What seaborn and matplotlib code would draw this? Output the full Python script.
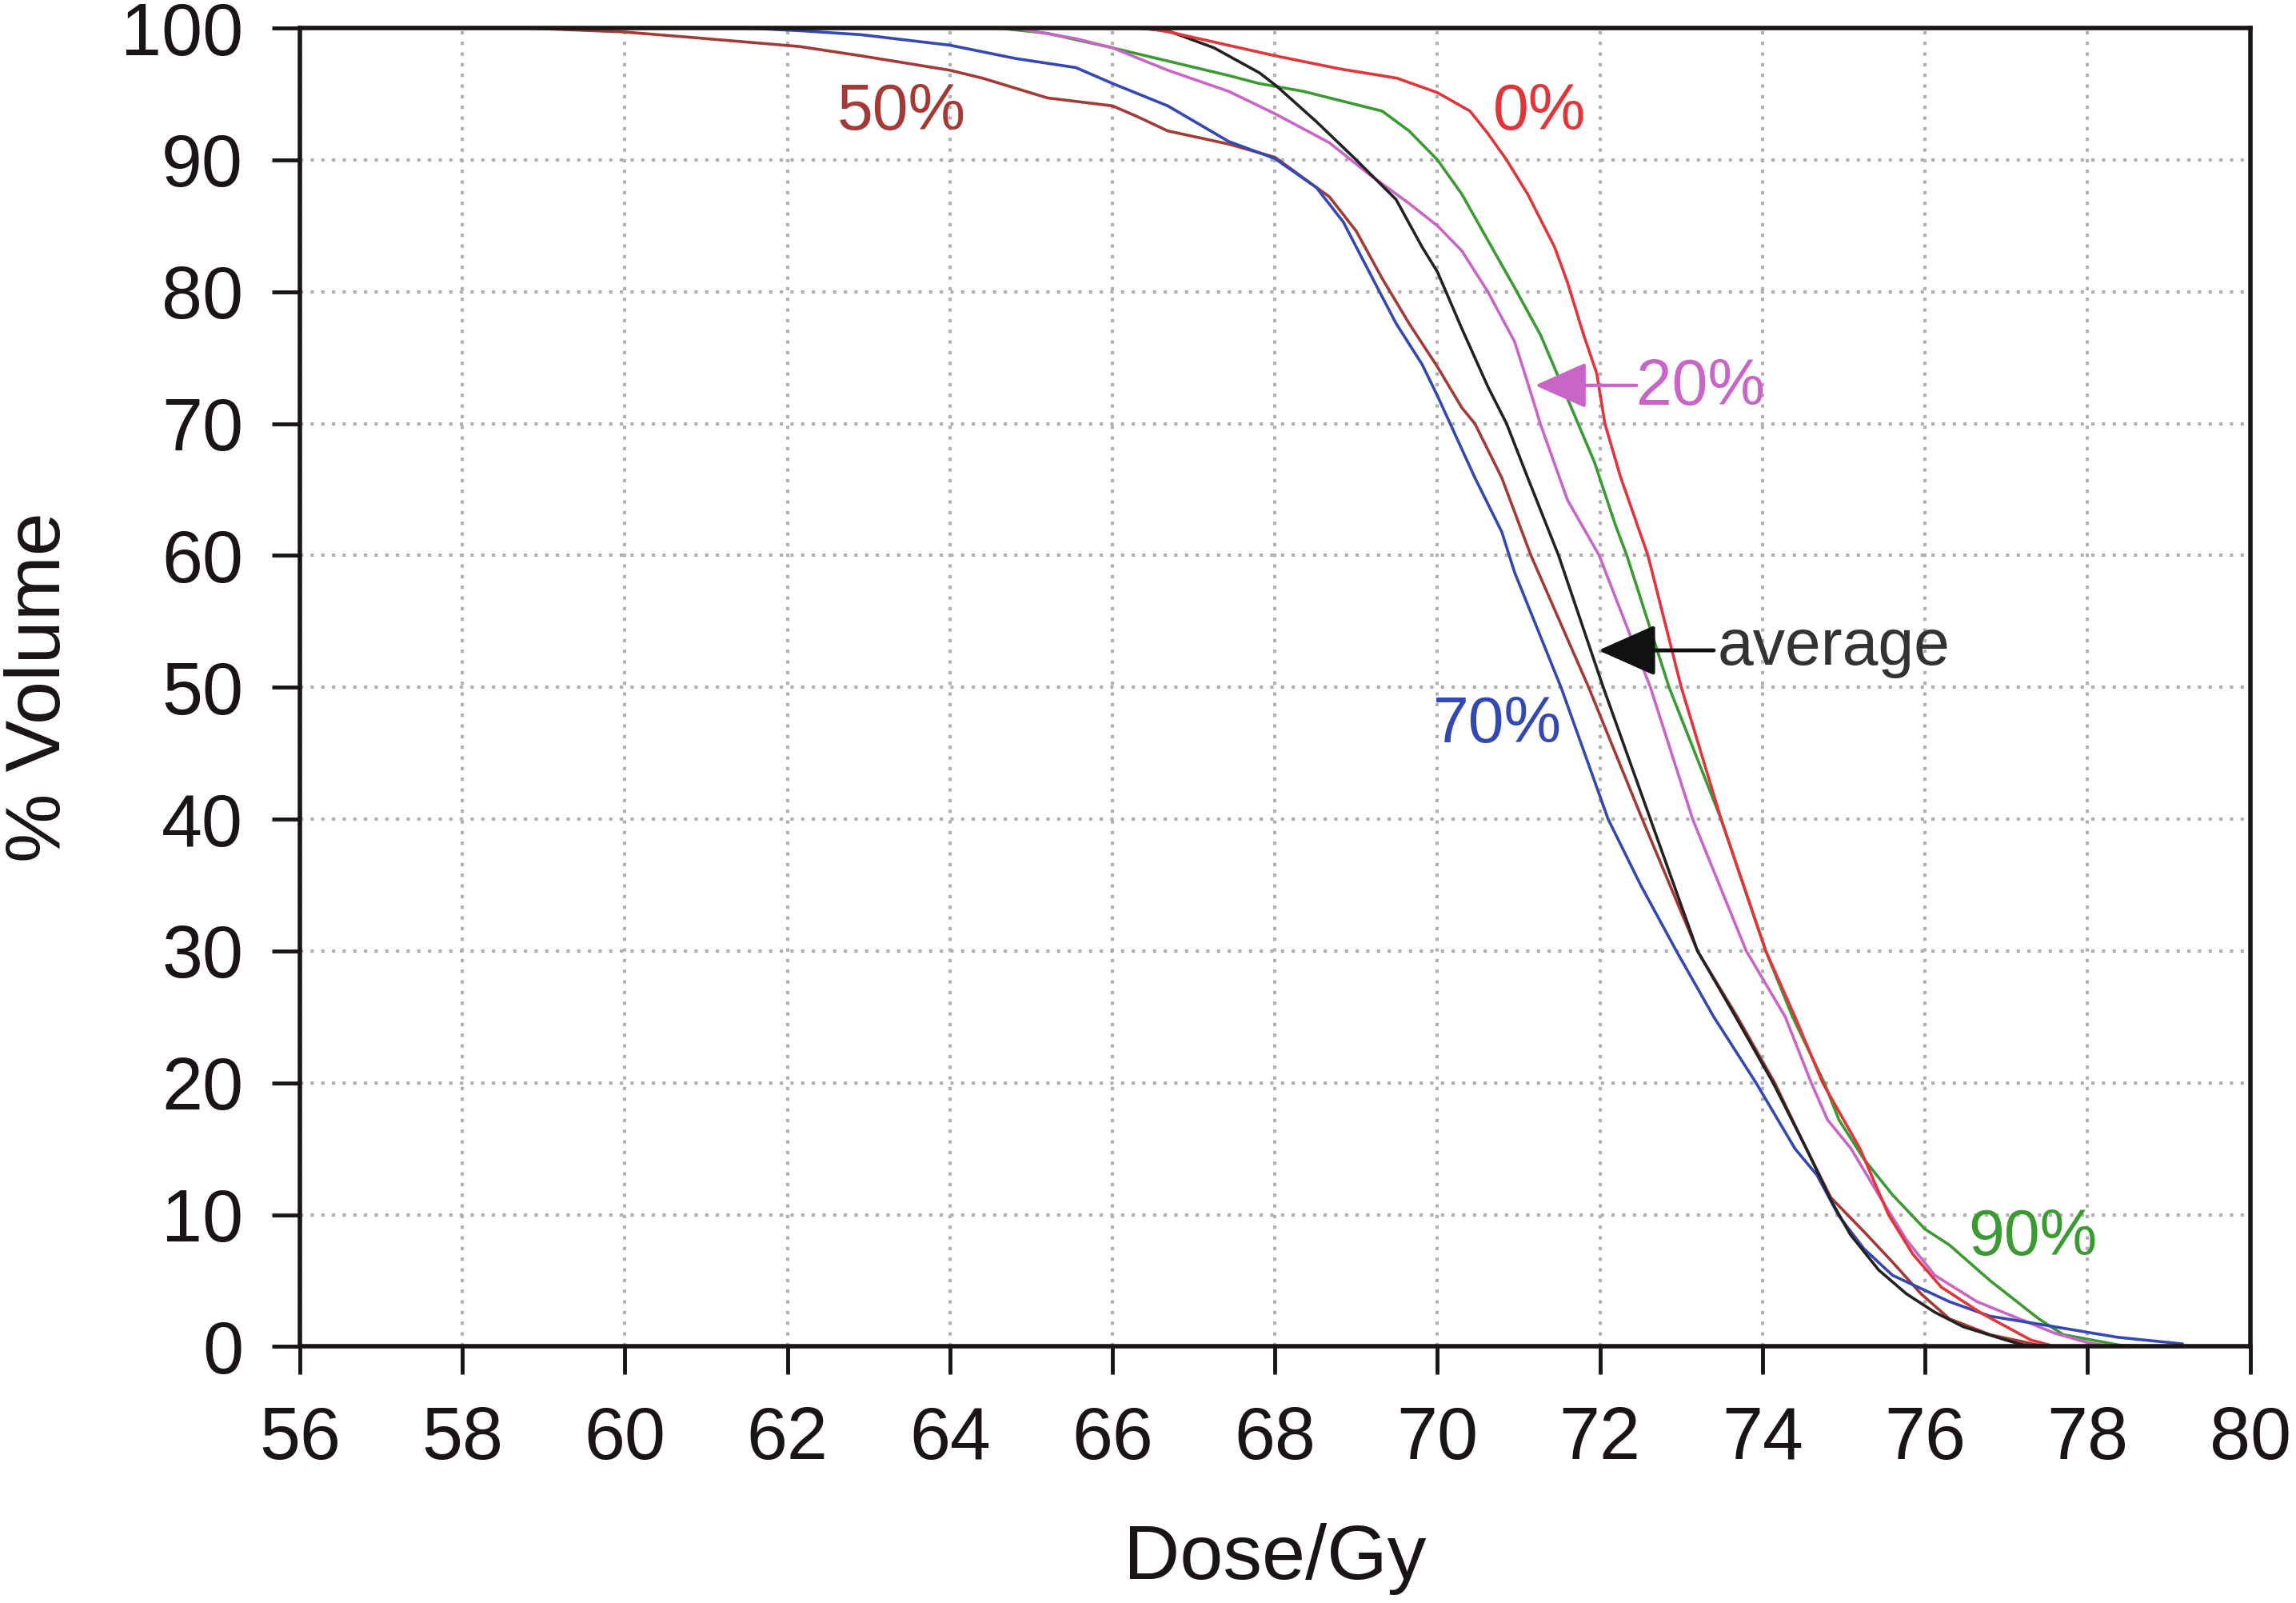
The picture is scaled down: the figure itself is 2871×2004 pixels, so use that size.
import numpy as np
import pandas as pd
import matplotlib
matplotlib.use("Agg")
import matplotlib.pyplot as plt
import seaborn as sns

# ── dados ───────────────────────────────────────────────────────────────────
dose_90 = [56, 64.6, 65.2, 66.0, 66.68, 67.43, 67.8, 68.35, 69.32, 69.65, 70.0, 70.3,
           70.62, 70.95, 71.27, 71.47, 71.73, 71.93, 72.19, 72.33, 72.85, 73.49, 74.04,
           74.37, 74.76, 74.94, 75.25, 75.6, 76.0, 76.3, 76.8, 77.4, 77.7, 78.4, 78.8]
vol_90 = [100, 100, 99.6, 98.5, 97.5, 96.4, 95.8, 95.2, 93.7, 92.2, 90.0, 87.4,
          83.9, 80.3, 76.7, 73.8, 70.0, 67.1, 62.3, 60, 50, 40, 30,
          25, 20, 17.2, 14.2, 11.5, 8.9, 7.7, 5.0, 2.1, 0.9, 0.1, 0]

dose_20 = [56, 64.8, 65.55, 66.0, 66.68, 67.43, 68.0, 68.67, 69.16, 69.65, 70.0, 70.3,
           70.62, 70.95, 71.11, 71.27, 71.6, 71.99, 72.62, 73.14, 73.8, 74.28, 74.6,
           74.8, 75.09, 75.43, 75.77, 76.12, 76.64, 77.16, 77.6, 78.0, 78.3]
vol_20 = [100, 100, 99.2, 98.5, 96.8, 95.2, 93.5, 91.3, 88.9, 86.7, 85.0, 83.1,
          80.0, 76.2, 73.1, 69.9, 64.2, 60, 50, 40, 30, 25, 20,
          17.2, 15, 11.5, 8.1, 5.4, 3.4, 2.1, 1.0, 0.3, 0]

dose_50 = [56, 58.8, 60.0, 60.8, 62.15, 62.9, 64.0, 64.4, 65.2, 66.0, 66.3, 66.68,
           67.43, 68.0, 68.67, 69.0, 69.32, 69.65, 70.0, 70.3, 70.46, 70.79, 71.15,
           71.86, 72.52, 73.2, 73.69, 74.15, 74.5, 74.84, 75.25, 75.6, 75.95,
           76.3, 76.8, 77.4, 77.6]
vol_50 = [100, 100, 99.7, 99.3, 98.6, 97.9, 96.8, 96.2, 94.7, 94.1, 93.3, 92.2,
          91.2, 90.2, 87.2, 84.6, 81.0, 77.6, 74.3, 71.2, 70.0, 65.9, 60,
          50, 40, 30, 25, 20, 15.5, 11.3, 8.7, 6.4, 4.0,
          2.1, 0.9, 0.1, 0]

dose_70 = [56, 61.5, 62.15, 62.9, 64.0, 64.8, 65.55, 66.0, 66.68, 67.43, 68.0, 68.51,
           68.84, 69.16, 69.49, 69.81, 70.0, 70.23, 70.46, 70.79, 70.95, 71.52, 72.1,
           72.5, 72.94, 73.4, 73.92, 74.4, 74.67, 74.94, 75.25, 75.6, 75.95, 76.3,
           76.8, 77.4, 78.37, 79.17]
vol_70 = [100, 100, 99.8, 99.5, 98.7, 97.7, 97.0, 95.8, 94.1, 91.4, 90.1, 87.9,
          85.3, 81.5, 77.6, 74.5, 72.1, 69.0, 65.9, 61.8, 58.7, 50, 40,
          35, 30, 25, 20, 15, 13.0, 9.9, 7.4, 5.4, 4.4, 3.4,
          2.3, 1.7, 0.7, 0.2]

dose_avg = [56, 66.3, 66.68, 67.25, 67.81, 68.02, 68.51, 69.0, 69.49, 69.81, 70.0, 70.3,
            70.62, 70.85, 71.11, 71.49, 72.04, 72.62, 73.2, 73.67, 74.13, 74.54, 74.85,
            75.08, 75.43, 75.77, 76.12, 76.47, 76.99, 77.16, 77.3]
vol_avg = [100, 100, 99.8, 98.5, 96.6, 95.6, 92.9, 90.0, 87.0, 83.4, 81.5, 77.2,
           72.8, 70.0, 65.9, 60, 50, 40, 30, 25, 20, 15, 11,
           8.5, 5.8, 4.0, 2.6, 1.5, 0.5, 0.2, 0]

dose_0 = [56, 66.4, 66.7, 68.0, 68.8, 69.5, 70.0, 70.4, 70.62, 70.85, 71.11, 71.44,
          71.6, 71.8, 71.96, 72.06, 72.25, 72.59, 73.0, 73.49, 74.04, 74.4, 74.74,
          75.2, 75.55, 75.85, 76.2, 76.7, 77.3, 77.6]
vol_0 = [100, 100, 99.7, 97.9, 96.9, 96.2, 95.1, 93.7, 92.0, 90.0, 87.4, 83.4,
         80.7, 76.7, 73.8, 70.0, 66.0, 60, 50, 40, 30, 25, 20,
         15, 10, 7.0, 4.5, 2.5, 0.5, 0]

x_ticks = list(range(56, 81, 2))
y_ticks = list(range(0, 101, 10))

COR_90 = "#3c9a32"
COR_20 = "#c965c6"
COR_50 = "#a33a36"
COR_70 = "#3448b4"
COR_AVG = "#222222"
COR_0 = "#e2353a"

# ── visual ──────────────────────────────────────────────────────────────────
sns.set_theme(style="white")
plt.rcParams["font.family"] = ["Liberation Sans", "DejaVu Sans"]

fig, ax = plt.subplots(figsize=(28.71, 20.04), dpi=100)
fig.subplots_adjust(left=0.1306, right=0.980, top=0.9825, bottom=0.160)

curvas = [
    (dose_90, vol_90, COR_90),
    (dose_20, vol_20, COR_20),
    (dose_50, vol_50, COR_50),
    (dose_70, vol_70, COR_70),
    (dose_avg, vol_avg, COR_AVG),
    (dose_0, vol_0, COR_0),
]
for xs, ys, cor in curvas:
    df = pd.DataFrame({"dose": xs, "vol": ys})
    sns.lineplot(data=df, x="dose", y="vol", color=cor, lw=2.6, sort=False,
                 estimator=None, ax=ax)

ax.set_xlim(56, 80)
ax.set_ylim(0, 100)
ax.set_xticks(x_ticks)
ax.set_yticks(y_ticks)
ax.grid(True, linestyle=(0, (1, 2.2)), color="#b0b0b0", lw=3)
for sp in ax.spines.values():
    sp.set_visible(True)
    sp.set_color("#1a1414")
    sp.set_linewidth(4)
ax.tick_params(axis="both", direction="out", length=25, width=3.5, color="#1a1414",
               labelsize=66, labelcolor="#1a1414", bottom=True, left=True)
ax.tick_params(axis="x", pad=28)
ax.tick_params(axis="y", pad=26)
ax.set_xlabel("Dose/Gy", fontsize=70, color="#1a1414", labelpad=44)
ax.set_ylabel("% Volume", fontsize=70, color="#1a1414", labelpad=40)

# ── rótulos das curvas ──────────────────────────────────────────────────────
ax.text(63.4, 93.6, "50%", color=COR_50, fontsize=58, ha="center", va="center")
ax.text(71.26, 93.6, "0%", color=COR_0, fontsize=58, ha="center", va="center")
ax.text(70.74, 47.1, "70%", color=COR_70, fontsize=58, ha="center", va="center")
ax.text(77.33, 8.2, "90%", color=COR_90, fontsize=58, ha="center", va="center")
ax.text(72.45, 72.7, "20%", color=COR_20, fontsize=58, ha="left", va="center")
ax.text(73.45, 53.0, "average", color="#333333", fontsize=58, ha="left", va="center")

seta = "-|>,head_length=0.9,head_width=0.4"
ax.annotate("", xy=(71.2, 72.9), xytext=(72.45, 72.9),
            arrowprops=dict(arrowstyle=seta, color=COR_20, lw=3, mutation_scale=45,
                            shrinkA=0, shrinkB=0))
ax.annotate("", xy=(71.98, 52.8), xytext=(73.4, 52.8),
            arrowprops=dict(arrowstyle=seta, color="#111111", lw=3.5, mutation_scale=50,
                            shrinkA=0, shrinkB=0))

plt.savefig("out.png", dpi=100)
plt.close()
